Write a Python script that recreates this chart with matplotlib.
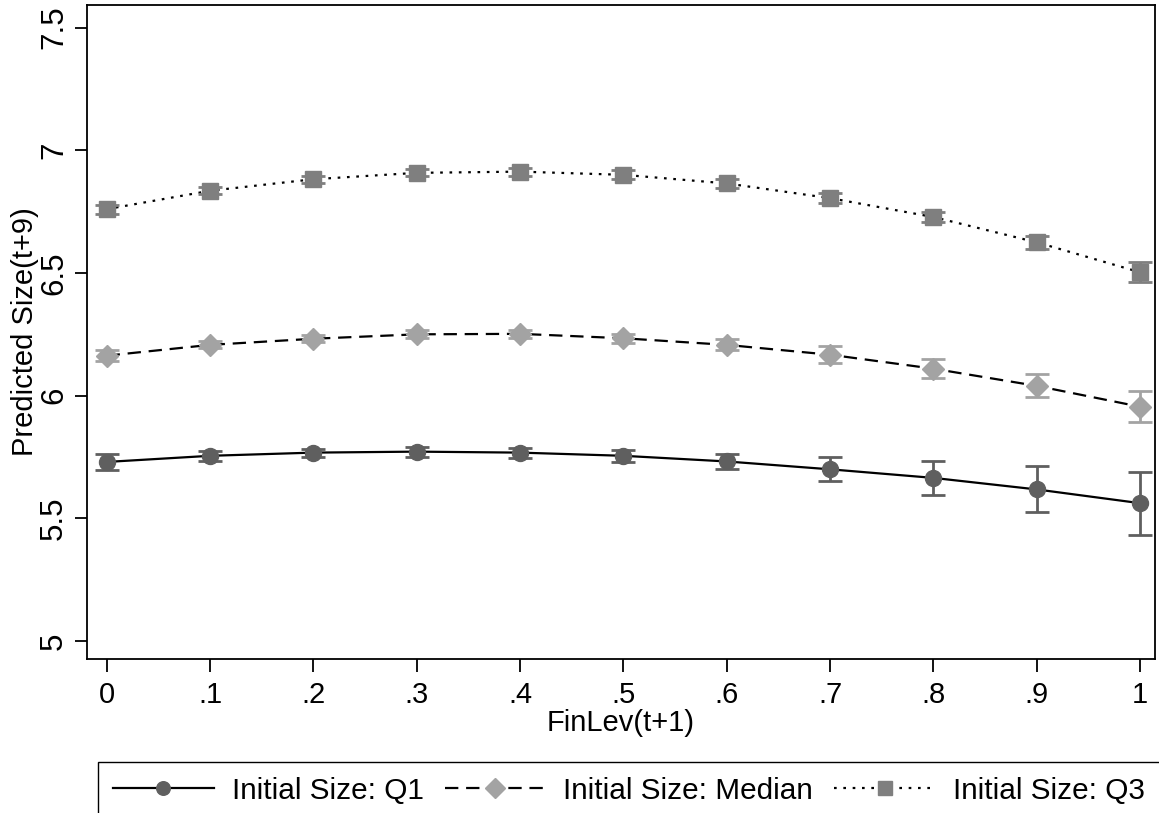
import numpy as np
import matplotlib
matplotlib.use('Agg')
import matplotlib.pyplot as plt
from matplotlib.lines import Line2D

plt.rcParams['font.family'] = ['Liberation Sans', 'DejaVu Sans']

finlev = [0, 0.1, 0.2, 0.3, 0.4, 0.5, 0.6, 0.7, 0.8, 0.9, 1.0]
xtick_labels = ['0', '.1', '.2', '.3', '.4', '.5', '.6', '.7', '.8', '.9', '1']

q1_pred = [5.73, 5.755, 5.768, 5.772, 5.768, 5.755, 5.732, 5.700, 5.665, 5.618, 5.562]
q1_err = [0.032, 0.02, 0.016, 0.02, 0.02, 0.024, 0.03, 0.049, 0.069, 0.094, 0.128]

med_pred = [6.163, 6.207, 6.232, 6.250, 6.252, 6.234, 6.207, 6.167, 6.110, 6.040, 5.955]
med_err = [0.022, 0.014, 0.014, 0.016, 0.016, 0.018, 0.022, 0.035, 0.038, 0.047, 0.064]

q3_pred = [6.760, 6.835, 6.882, 6.908, 6.913, 6.900, 6.865, 6.805, 6.728, 6.625, 6.503]
q3_err = [0.018, 0.014, 0.014, 0.014, 0.016, 0.018, 0.02, 0.02, 0.022, 0.026, 0.04]

labels = ['Initial Size: Q1', 'Initial Size: Median', 'Initial Size: Q3']

fig = plt.figure(figsize=(11.59, 8.13), dpi=100)
ax = fig.add_axes([87/1159, 1-659/813, (1155-87)/1159, (659-5)/813])

series = [
    (q1_pred, q1_err, '#5f5f5f', 'o', 11.5, '-'),
    (med_pred, med_err, '#a3a3a3', 'D', 11.5, (0, (6, 3.5))),
    (q3_pred, q3_err, '#7f7f7f', 's', 11.5, (0, (1.2, 3.0))),
]

handles = []
for (y, e, col, mk, ms, ls), lab in zip(series, labels):
    ax.plot(finlev, y, color='black', lw=1.6, linestyle=ls, zorder=2)
    ax.errorbar(finlev, y, yerr=e, fmt=mk, color=col, ms=ms, mec=col,
                ecolor=col, elinewidth=2, capsize=8.5, capthick=2, zorder=3)
    handles.append(Line2D([], [], color='black', lw=1.6, linestyle=ls,
                          marker=mk, markersize=ms * 0.85, mfc=col, mec=col))

ax.set_xlim(-0.019, 1.0145)
ax.set_ylim(4.927, 7.592)
ax.set_xticks(finlev)
ax.set_xticklabels(xtick_labels)
ax.set_yticks([5, 5.5, 6, 6.5, 7, 7.5])
ax.set_yticklabels(['5', '5.5', '6', '6.5', '7', '7.5'], rotation=90, va='center')
ax.tick_params(axis='both', direction='out', length=9, width=1.3)
ax.tick_params(axis='x', labelsize=21, pad=7)
ax.tick_params(axis='y', labelsize=22.5, pad=4)
for sp in ax.spines.values():
    sp.set_linewidth(1.3)

ax.set_xlabel('FinLev(t+1)', fontsize=21, labelpad=0)
ax.set_ylabel('Predicted Size(t+9)', fontsize=21)
ax.yaxis.set_label_coords(-0.045, 0.5)

fig.legend(handles, labels, loc='upper left', ncol=3,
           bbox_to_anchor=(98/1159, 1-762/813), borderaxespad=0, fontsize=21.4,
           frameon=True, fancybox=False, edgecolor='black', framealpha=1,
           handlelength=3.4, columnspacing=0.7, handletextpad=0.6,
           borderpad=0.5, numpoints=1)

fig.savefig('out.png', dpi=100)
